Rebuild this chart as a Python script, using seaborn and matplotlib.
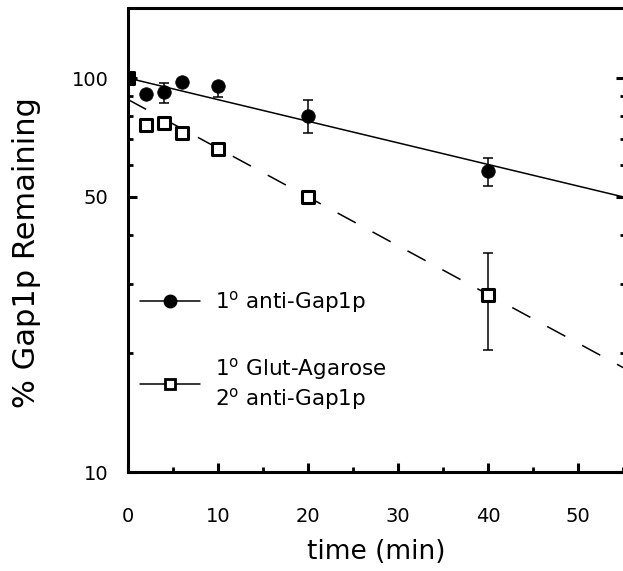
import matplotlib
matplotlib.use("Agg")
import matplotlib.pyplot as plt
import seaborn as sns
import pandas as pd
from matplotlib.lines import Line2D
from matplotlib.ticker import FixedLocator, NullFormatter

# ---- data ----
time_anti = [0, 2, 4, 6, 10, 20, 40]
remain_anti = [100, 91, 92.2, 98, 95.4, 80.1, 58.0]
err_anti_low = [0, 0, 5.8, 0, 5.7, 7.7, 4.8]
err_anti_high = [0, 0, 5.0, 0, 0, 7.7, 4.8]

time_glut = [0, 2, 4, 6, 10, 20, 40]
remain_glut = [100, 76.1, 76.9, 72.5, 66.0, 50.0, 28.2]
err_glut = [0, 0, 0, 0, 0, 0, 7.85]

fit_time = [0, 55.2]
fit_anti = [100, 49.8]
fit_glut = [88.2, 18.3]

x_ticks = [0, 10, 20, 30, 40, 50]
x_minor = [5, 15, 25, 35, 45, 55]
y_ticks = [10, 50, 100]
y_minor = [20, 30, 40, 60, 70, 80, 90]

label_anti = "1$^{\\mathrm{o}}$ anti-Gap1p"
label_glut = "1$^{\\mathrm{o}}$ Glut-Agarose\n2$^{\\mathrm{o}}$ anti-Gap1p"

sns.set_theme(style="ticks")
plt.rcParams["font.family"] = ["DejaVu Sans"]
plt.rcParams["mathtext.fontset"] = "dejavusans"
for key in ["text.color", "axes.labelcolor", "xtick.color", "ytick.color",
            "axes.edgecolor"]:
    plt.rcParams[key] = "black"

fig = plt.figure(figsize=(6.23, 5.71), dpi=100)
ax = fig.add_axes([128 / 623, 99 / 571, 497 / 623, 464 / 571])
ax.set_yscale("log")

df_fit = pd.DataFrame({"t": fit_time + fit_time,
                       "v": fit_anti + fit_glut,
                       "s": ["a", "a", "g", "g"]})
sns.lineplot(data=df_fit[df_fit.s == "a"], x="t", y="v", ax=ax,
             color="black", lw=1.1, estimator=None)
sns.lineplot(data=df_fit[df_fit.s == "g"], x="t", y="v", ax=ax,
             color="black", lw=1.1, estimator=None)
ax.lines[-1].set_dashes((13.5, 12.5))

ax.errorbar(time_glut, remain_glut, yerr=err_glut, fmt="none",
            ecolor="black", elinewidth=1.1, capsize=3.3, capthick=1.1, zorder=3)
ax.errorbar(time_anti, remain_anti, yerr=[err_anti_low, err_anti_high],
            fmt="none", ecolor="black", elinewidth=1.1, capsize=3.3,
            capthick=1.1, zorder=3)

sns.scatterplot(x=time_glut, y=remain_glut, ax=ax, marker="s", s=85,
                facecolor="white", edgecolor="black", linewidth=2.2, zorder=4)
sns.scatterplot(x=time_anti, y=remain_anti, ax=ax, marker="o", s=95,
                color="black", edgecolor="black", linewidth=0.5, zorder=5)

ax.set_xlim(0, 55.2)
ax.set_ylim(10, 150.6)

ax.set_xticks(x_ticks)
ax.xaxis.set_minor_locator(FixedLocator(x_minor))
ax.set_yticks(y_ticks)
ax.set_yticklabels([str(v) for v in y_ticks])
ax.yaxis.set_minor_locator(FixedLocator(y_minor))
ax.yaxis.set_minor_formatter(NullFormatter())

ax.tick_params(axis="both", which="major", direction="in", labelsize=14,
               width=2.2, length=6.5, color="black", labelcolor="black")
ax.tick_params(axis="both", which="minor", direction="in", width=2.0,
               length=3.5, color="black")
ax.tick_params(axis="x", which="both", pad=25, top=False)
ax.tick_params(axis="y", which="both", pad=14, right=True)

for side in ["left", "bottom", "top", "right"]:
    ax.spines[side].set_linewidth(2.2)
    ax.spines[side].set_color("black")

ax.set_xlabel("time (min)", fontsize=19, color="black")
ax.xaxis.set_label_coords(0.5, -0.145)
ax.set_ylabel("% Gap1p Remaining", fontsize=22, color="black")
ax.yaxis.set_label_coords(-0.175, 0.474)

handles = [
    Line2D([], [], color="black", lw=1.1, marker="o", markersize=9,
           markerfacecolor="black"),
    Line2D([], [], color="black", lw=1.1, marker="s", markersize=7.5,
           markerfacecolor="white", markeredgewidth=2.0),
]
leg = ax.legend(handles, [label_anti, label_glut], loc="center left",
                bbox_to_anchor=(0.024, 0.262), frameon=False, fontsize=15.5,
                handlelength=2.8, handletextpad=0.7, labelspacing=1.9,
                borderaxespad=0, borderpad=0)
for t in leg.get_texts():
    t.set_color("black")

fig.savefig("out.png", dpi=100)
